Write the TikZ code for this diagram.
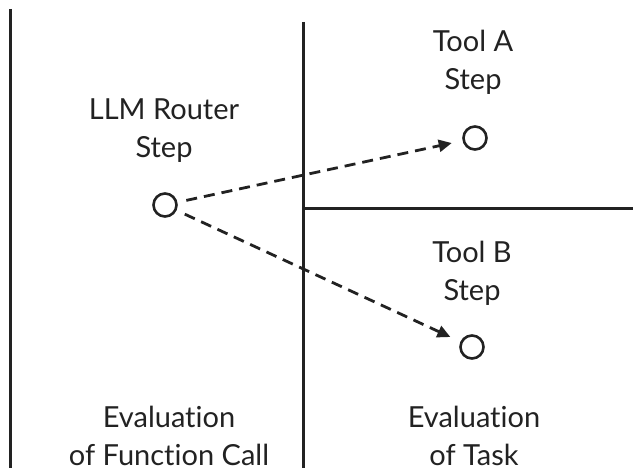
\documentclass[tikz,border=0pt]{standalone}
\usepackage{fontspec}
\setmainfont{Lato}[Ligatures=NoCommon]
\usetikzlibrary{arrows.meta}
\definecolor{ink}{HTML}{222222}
\begin{document}
\begin{tikzpicture}[x=1pt,y=-1pt,
  divider/.style={draw=ink,line width=3pt},
  stepdot/.style={circle,draw=ink,line width=2.6pt,minimum size=23pt,inner sep=0pt},
  label/.style={text=ink,align=center,font=\fontsize{29}{38}\selectfont,anchor=base,inner sep=0pt},
  route/.style={draw=ink,line width=2.8pt,dash pattern=on 11pt off 7pt,
    -{Triangle[length=13pt,width=12pt]},shorten <=9pt,shorten >=11pt}]
\useasboundingbox (0,0) rectangle (633,468);
% lane dividers
\coordinate (l1top) at (10,9);   \coordinate (l1bot) at (10,470);
\coordinate (l2top) at (303,22); \coordinate (l2bot) at (303,470);
\coordinate (hleft) at (303,209); \coordinate (hright) at (635,209);
\draw[divider] (l1top) -- (l1bot);
\draw[divider] (l2top) -- (l2bot);
\draw[divider] (hleft) -- (hright);
% steps
\node[stepdot] (router) at (165,205) {};
\node[stepdot] (toola) at (475,138) {};
\node[stepdot] (toolb) at (472,347) {};
% labels (anchored at the baseline of their last line)
\node[label] (routerlbl) at (164,158) {LLM Router\\Step};
\node[label] (toolalbl) at (473,90) {Tool A\\Step};
\node[label] (toolblbl) at (472,301) {Tool B\\Step};
\node[label] (evalfn) at (169,465) {Evaluation\\of Function Call};
\node[label] (evaltask) at (474,465) {Evaluation\\of Task};
% routing choices
\draw[route] (router) -- (toola);
\draw[route] (router) -- (toolb);
\end{tikzpicture}
\end{document}
